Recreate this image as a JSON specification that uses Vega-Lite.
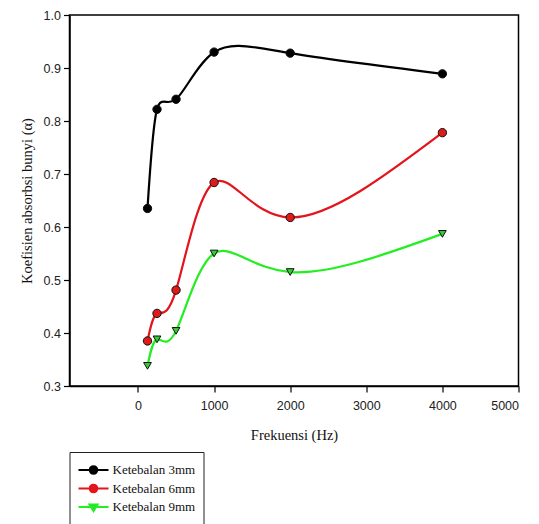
{
  "$schema": "https://vega.github.io/schema/vega-lite/v6.json",
  "width": 449,
  "height": 371,
  "autosize": "none",
  "padding": {"left": 69.5, "top": 15, "right": 20.5, "bottom": 138},
  "background": "white",
  "config": {
    "view": {"stroke": "black", "strokeWidth": 1.5},
    "axis": {
      "domainColor": "black",
      "domainWidth": 1.5,
      "tickColor": "black",
      "tickWidth": 1.2,
      "tickSize": 6,
      "grid": false,
      "labelFont": "Liberation Sans",
      "labelFontSize": 12.5,
      "labelColor": "#222222",
      "titleFont": "Liberation Serif",
      "titleFontSize": 14.5,
      "titleFontWeight": "normal",
      "titleColor": "#111111"
    }
  },
  "data": {
    "values": [
      {"freq": 125, "alpha": 0.635, "series": "Ketebalan 3mm"},
      {"freq": 250, "alpha": 0.822, "series": "Ketebalan 3mm"},
      {"freq": 500, "alpha": 0.841, "series": "Ketebalan 3mm"},
      {"freq": 1000, "alpha": 0.930, "series": "Ketebalan 3mm"},
      {"freq": 2000, "alpha": 0.928, "series": "Ketebalan 3mm"},
      {"freq": 4000, "alpha": 0.889, "series": "Ketebalan 3mm"},
      {"freq": 125, "alpha": 0.385, "series": "Ketebalan 6mm"},
      {"freq": 250, "alpha": 0.437, "series": "Ketebalan 6mm"},
      {"freq": 500, "alpha": 0.481, "series": "Ketebalan 6mm"},
      {"freq": 1000, "alpha": 0.684, "series": "Ketebalan 6mm"},
      {"freq": 2000, "alpha": 0.618, "series": "Ketebalan 6mm"},
      {"freq": 4000, "alpha": 0.778, "series": "Ketebalan 6mm"},
      {"freq": 125, "alpha": 0.338, "series": "Ketebalan 9mm"},
      {"freq": 250, "alpha": 0.388, "series": "Ketebalan 9mm"},
      {"freq": 500, "alpha": 0.404, "series": "Ketebalan 9mm"},
      {"freq": 1000, "alpha": 0.550, "series": "Ketebalan 9mm"},
      {"freq": 2000, "alpha": 0.515, "series": "Ketebalan 9mm"},
      {"freq": 4000, "alpha": 0.587, "series": "Ketebalan 9mm"}
    ]
  },
  "encoding": {
    "x": {
      "field": "freq",
      "type": "quantitative",
      "scale": {"domain": [-900, 5000], "nice": false, "zero": false},
      "axis": {
        "title": "Frekuensi (Hz)",
        "values": [0, 1000, 2000, 3000, 4000, 5000],
        "format": "d",
        "labelPadding": 7,
        "titlePadding": 17
      }
    },
    "y": {
      "field": "alpha",
      "type": "quantitative",
      "scale": {"domain": [0.3, 1.0], "nice": false, "zero": false},
      "axis": {
        "title": "Koefisien absorbsi bunyi (α)",
        "values": [0.3, 0.4, 0.5, 0.6, 0.7, 0.8, 0.9, 1.0],
        "format": ".1f",
        "labelPadding": 3,
        "titlePadding": 9
      }
    }
  },
  "layer": [
    {
      "mark": {"type": "line", "interpolate": "natural", "strokeWidth": 2.2},
      "encoding": {
        "stroke": {
          "field": "series",
          "type": "nominal",
          "scale": {"domain": ["Ketebalan 3mm", "Ketebalan 6mm", "Ketebalan 9mm"], "range": ["#000000", "#e3141b", "#22ee22"]}
        }
      }
    },
    {
      "transform": [{"filter": "datum.series != 'Ketebalan 9mm'"}],
      "mark": {"type": "point", "shape": "circle", "filled": true, "size": 70, "stroke": "#111111", "strokeWidth": 1, "opacity": 1},
      "encoding": {
        "fill": {
          "field": "series",
          "type": "nominal",
          "scale": {"domain": ["Ketebalan 3mm", "Ketebalan 6mm", "Ketebalan 9mm"], "range": ["#000000", "#e01a1a", "#33cc33"]}
        }
      }
    },
    {
      "transform": [{"filter": "datum.series == 'Ketebalan 9mm'"}],
      "mark": {"type": "point", "shape": "triangle-down", "filled": true, "size": 60, "stroke": "#111111", "strokeWidth": 1, "opacity": 1},
      "encoding": {
        "fill": {
          "field": "series",
          "type": "nominal",
          "scale": {"domain": ["Ketebalan 3mm", "Ketebalan 6mm", "Ketebalan 9mm"], "range": ["#000000", "#e01a1a", "#33cc33"]}
        }
      }
    },
    {
      "transform": [{"filter": "false"}],
      "mark": {"type": "point", "filled": false, "strokeWidth": 2, "opacity": 1},
      "encoding": {
        "shape": {
          "field": "series",
          "type": "nominal",
          "scale": {
            "domain": ["Ketebalan 3mm", "Ketebalan 6mm", "Ketebalan 9mm"],
            "range": [
              "M-1.667,0L1.667,0M0.42,0A0.42,0.42,0,1,1,-0.42,0A0.42,0.42,0,1,1,0.42,0Z",
              "M-1.667,0L1.667,0M0.42,0A0.42,0.42,0,1,1,-0.42,0A0.42,0.42,0,1,1,0.42,0Z",
              "M-1.667,0L1.667,0M-0.45,-0.28L0.45,-0.28L0,0.45Z"
            ]
          },
          "legend": {
            "title": null,
            "orient": "none",
            "legendX": 0,
            "legendY": 437,
            "strokeColor": "#222222",
            "fillColor": "white",
            "padding": 8,
            "symbolSize": 324,
            "symbolOffset": 6,
            "symbolStrokeWidth": 2,
            "rowPadding": 0.5,
            "labelOffset": 9,
            "labelFont": "Liberation Serif",
            "labelFontSize": 13,
            "labelColor": "#111111"
          }
        },
        "stroke": {"field": "series", "type": "nominal", "legend": {"title": null}},
        "fill": {"field": "series", "type": "nominal", "legend": {"title": null}}
      }
    }
  ]
}
